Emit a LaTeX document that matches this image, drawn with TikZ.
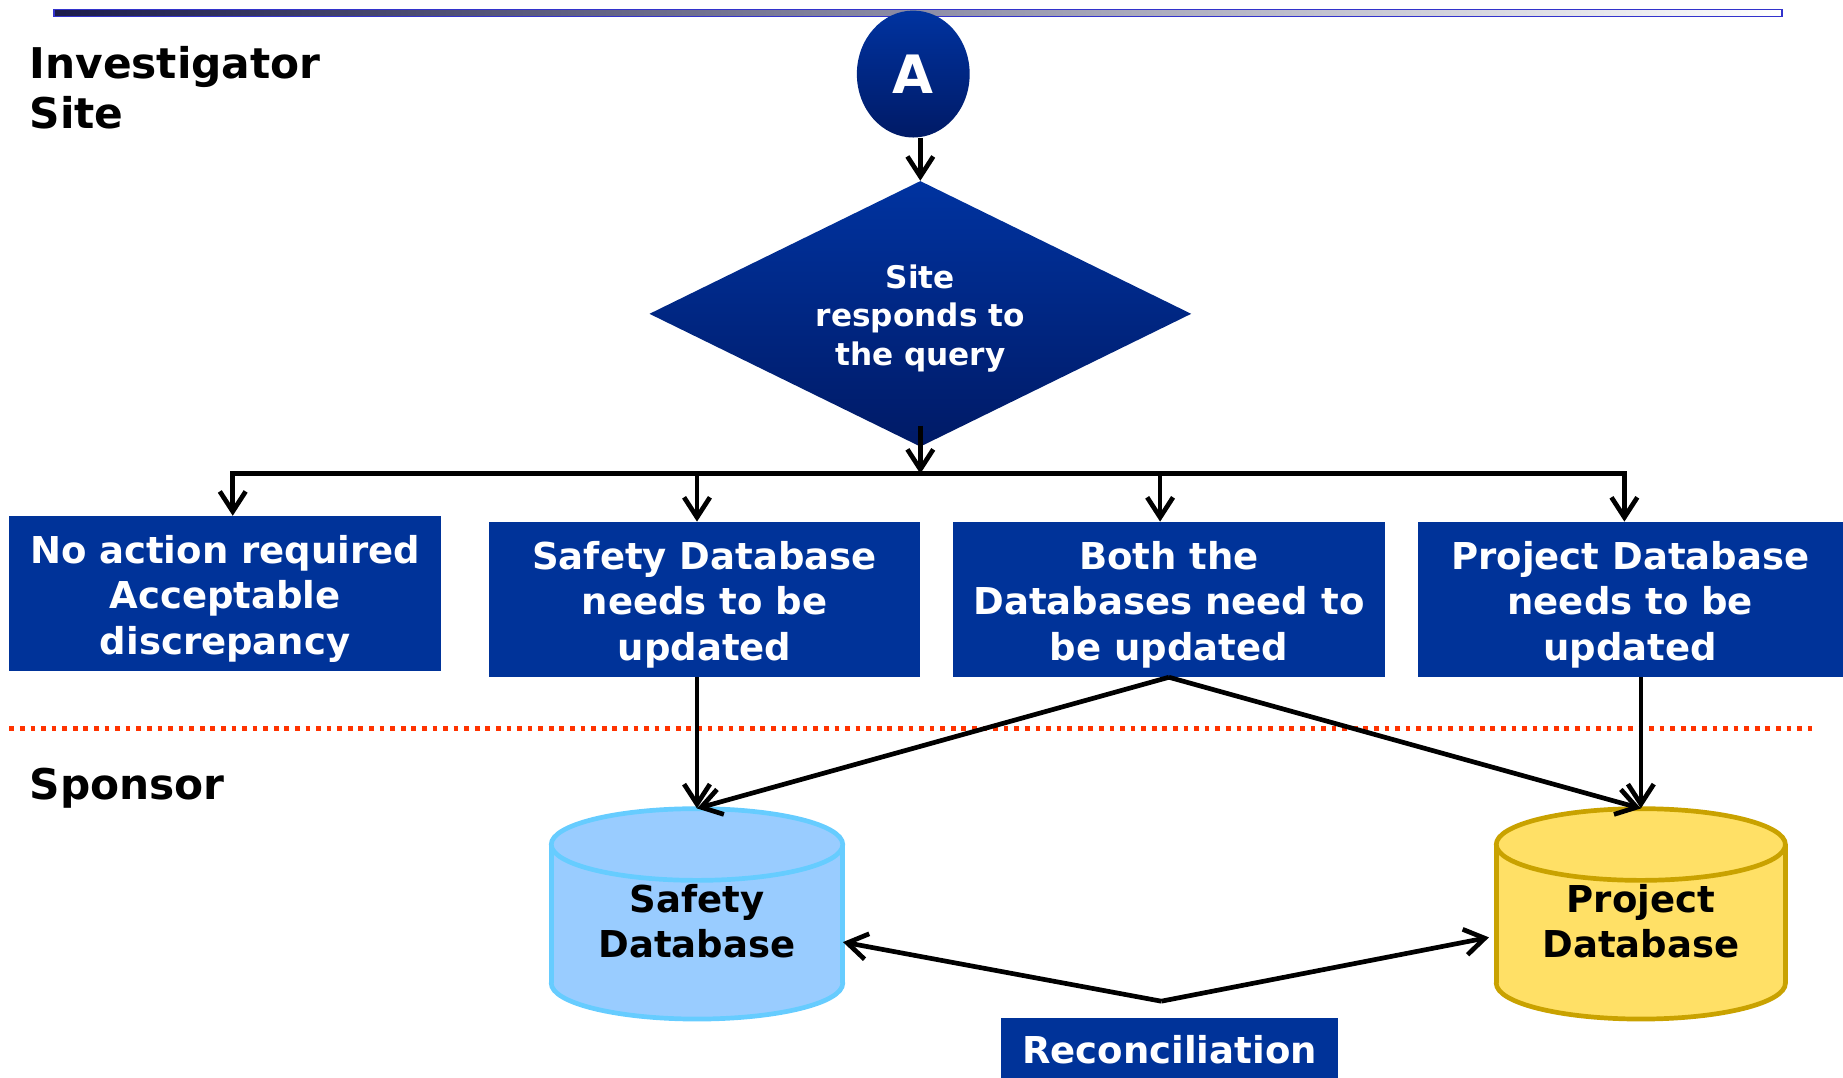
\documentclass[tikz,border=0pt]{standalone}
\usepackage{fontspec}
\setmainfont{DejaVu Sans}
\usetikzlibrary{shapes.geometric,arrows.meta,calc}
\definecolor{boxblue}{HTML}{003399}
\definecolor{diatop}{HTML}{0033A0}
\definecolor{diabot}{HTML}{001A66}
\definecolor{dotred}{HTML}{FF3300}
\definecolor{barblue}{HTML}{3333CC}
\definecolor{bardark}{HTML}{1C1C4C}
\definecolor{safefill}{HTML}{99CCFF}
\definecolor{safeline}{HTML}{66CCFF}
\definecolor{projfill}{HTML}{FFE066}
\definecolor{projline}{HTML}{C9A200}
\newcommand{\toppad}[1]{\rule{0pt}{#1}}
\begin{document}
\begin{tikzpicture}[x=1pt,y=-1pt,
  box/.style={rectangle, fill=boxblue, text=white, inner sep=0pt, align=center,
    font=\bfseries\fontsize{31.5}{39}\selectfont},
  conn/.style={line width=4pt, draw=black},
  arr/.style={conn, -{Straight Barb[length=17pt,width=22pt]}},
  lbl/.style={font=\bfseries\fontsize{36}{42.5}\selectfont, inner sep=0pt, align=left, anchor=north west},
  dbshape/.style={inner sep=0pt, minimum width=248pt, minimum height=179pt},
  dbtext/.style={inner sep=0pt, align=center, text=black, font=\bfseries\fontsize{31.5}{38}\selectfont},
  dbline/.style={line width=4pt},
]
\useasboundingbox (0,0) rectangle (1568,917);

% top bar
\draw[draw=barblue, line width=1.5pt, left color=bardark, middle color=gray!75, right color=white]
  (46,8) rectangle (1516,14);

% lane labels
\node[lbl] (inv) at (25,39) {Investigator\\Site};
\node[lbl] (spo) at (25,653) {Sponsor};

% dotted separator
\draw[dotred, line width=4pt, dash pattern=on 4pt off 5pt] (8,620) -- (1545,620);

% start connector
\node[ellipse, minimum width=96pt, minimum height=108pt, inner sep=0pt,
  top color=diatop, bottom color=diabot, text=white,
  font=\bfseries\fontsize{45}{50}\selectfont] (a) at (777,63) {A};

% decision
\node[diamond, minimum width=461pt, minimum height=226pt, aspect=2, inner sep=0pt,
  top color=diatop, bottom color=diabot, text=white, align=center,
  font=\bfseries\fontsize{26.5}{33}\selectfont] (q) at (783,267) {\toppad{28pt}Site\\responds to\\the query};

% outcome boxes
\node[box, minimum width=367pt, minimum height=132pt] (b1) at (191.5,505) {\toppad{33pt}No action required\\Acceptable\\discrepancy};
\node[box, minimum width=367pt, minimum height=132pt] (b2) at (599.5,510) {\toppad{33pt}Safety Database\\needs to be\\updated};
\node[box, minimum width=367pt, minimum height=132pt] (b3) at (994.5,510) {\toppad{33pt}Both the\\Databases need to\\be updated};
\node[box, minimum width=362pt, minimum height=132pt] (b4) at (1387,510) {\toppad{33pt}Project Database\\needs to be\\updated};

% branching
\coordinate (hub) at (783,403);
\coordinate (j1) at (198,403);
\coordinate (j2) at (593,403);
\coordinate (j3) at (987,403);
\coordinate (j4) at (1382,403);
\draw[arr] (a.south -| q.north) -- (q.north);
\draw[arr] ($(q.south)+(0,-18)$) -- (hub);
\draw[conn, line cap=rect] (j1) -- (j4);
\draw[arr] (j1) -- (j1 |- b1.north);
\draw[arr] (j2) -- (j2 |- b2.north);
\draw[arr] (j3) -- (j3 |- b3.north);
\draw[arr] (j4) -- (j4 |- b4.north);

% safety database cylinder
\filldraw[fill=safefill, draw=safeline, dbline] (593,836.5) ellipse [x radius=124pt, y radius=30.5pt];
\fill[safefill] (469,718.5) rectangle (717,836.5);
\draw[safeline, dbline] (469,718.5) -- (469,836.5) (717,718.5) -- (717,836.5);
\filldraw[fill=safefill, draw=safeline, dbline] (593,718.5) ellipse [x radius=124pt, y radius=30.5pt];
\node[dbshape] (sdb) at (593,777.5) {};
\node[dbtext] (sdbl) at (593,784) {Safety\\Database};

% project database cylinder
\filldraw[fill=projfill, draw=projline, dbline] (1396,836.5) ellipse [x radius=123pt, y radius=30.5pt];
\fill[projfill] (1273,718.5) rectangle (1519,836.5);
\draw[projline, dbline] (1273,718.5) -- (1273,836.5) (1519,718.5) -- (1519,836.5);
\filldraw[fill=projfill, draw=projline, dbline] (1396,718.5) ellipse [x radius=123pt, y radius=30.5pt];
\node[dbshape, minimum width=246pt] (pdb) at (1396,777.5) {};
\node[dbtext] (pdbl) at (1396,784) {Project\\Database};

% to the databases
\draw[arr] (sdb.north |- b2.south) -- (sdb.north);
\draw[arr] (b3.south) -- (sdb.north);
\draw[arr] (b3.south) -- (pdb.north);
\draw[arr] (pdb.north |- b4.south) -- (pdb.north);

% reconciliation
\node[box, minimum width=286pt, minimum height=54pt] (rec) at (995,893) {Reconciliation};
\coordinate (rc) at ($(rec.north)+(-7,-14)$);
\draw[arr] (rc) -- ($(sdb.east)+(0,24)$);
\draw[arr] (rc) -- ($(pdb.west)+(-6,20)$);
\end{tikzpicture}
\end{document}
